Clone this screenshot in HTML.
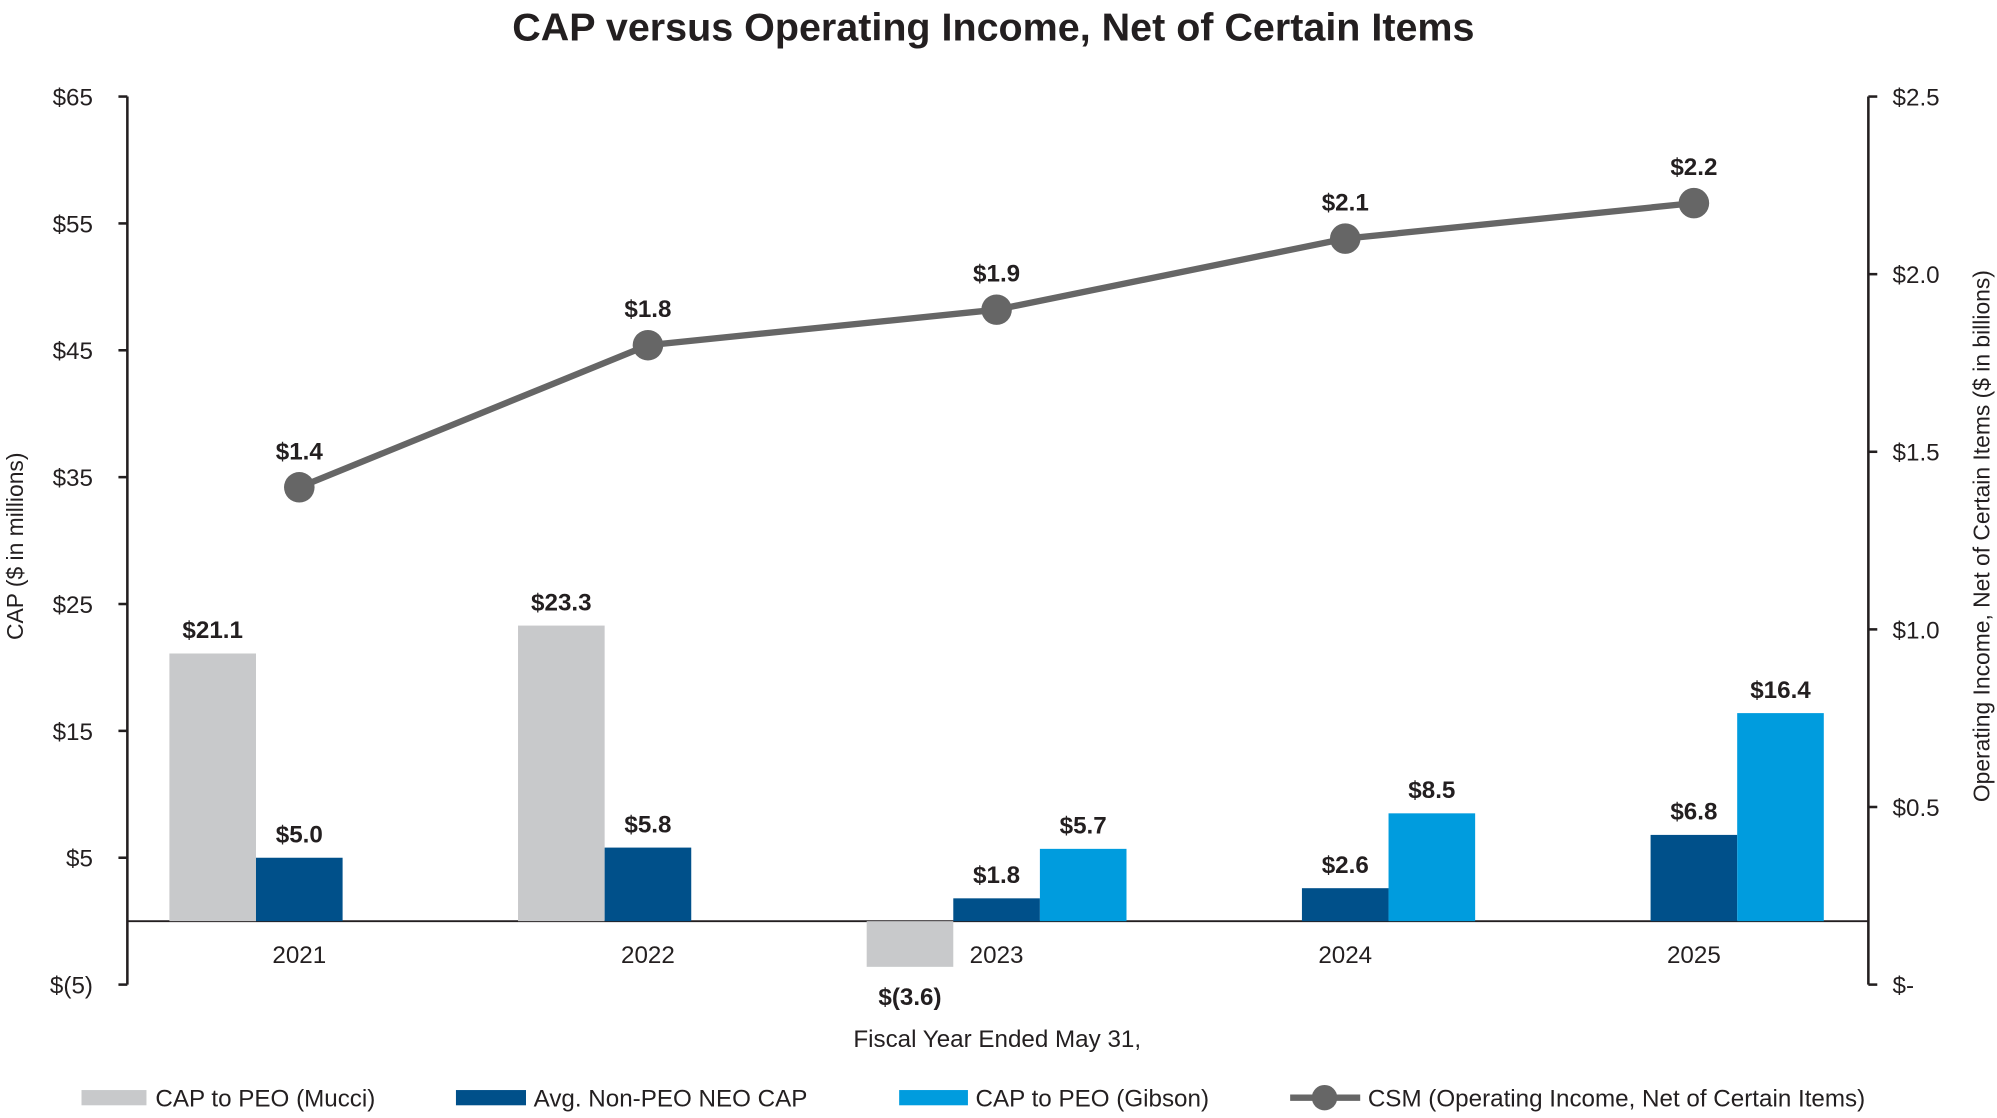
<!DOCTYPE html>
<html><head><meta charset="utf-8"><style>
html,body{margin:0;padding:0;background:#fff;}
svg{display:block;font-family:"Liberation Sans",sans-serif;}
</style></head><body>
<svg id="chart" width="1997" height="1118" viewBox="0 0 1568 880" preserveAspectRatio="none" xmlns="http://www.w3.org/2000/svg">
<text x="780" y="32" text-anchor="middle" font-size="31" font-weight="bold" fill="#231f20">CAP versus Operating Income, Net of Certain Items</text>
<g id="axes"></g>
<g id="marks"></g>
<text transform="translate(18,430) rotate(-90)" text-anchor="middle" font-size="18" fill="#231f20">CAP ($ in millions)</text>
<text transform="translate(1562,422) rotate(-90)" text-anchor="middle" font-size="18" fill="#231f20">Operating Income,  Net of Certain Items ($ in billions)</text>
<text x="783" y="824" text-anchor="middle" font-size="19" fill="#231f20">Fiscal Year Ended May 31,</text>
<g>
<rect x="64" y="858" width="51" height="12" fill="#c8c9cb"/>
<text x="122" y="871" font-size="19" fill="#231f20">CAP to PEO (Mucci)</text>
<rect x="358" y="858" width="55" height="12" fill="#00508a"/>
<text x="419" y="871" font-size="19" fill="#231f20">Avg. Non-PEO NEO CAP</text>
<rect x="706" y="858" width="54" height="12" fill="#009cde"/>
<text x="766" y="871" font-size="19" fill="#231f20">CAP to PEO (Gibson)</text>
<line x1="1013" y1="864" x2="1068" y2="864" stroke="#666" stroke-width="5"/>
<circle cx="1040" cy="864" r="10" fill="#666"/>
<text x="1074" y="871" font-size="19" fill="#231f20">CSM (Operating Income, Net of Certain Items)</text>
</g>
</svg>
<script>
const years=['2021','2022','2023','2024','2025'];
const mucci=[21.1,23.3,-3.6,null,null];
const nonPeo=[5.0,5.8,1.8,2.6,6.8];
const gibson=[null,null,5.7,8.5,16.4];
const csm=[1.4,1.8,1.9,2.1,2.2];
const leftTicks=[-5,5,15,25,35,45,55,65];
const leftTickLabels=['$(5)','$5','$15','$25','$35','$45','$55','$65'];
const rightTicks=[0,0.5,1.0,1.5,2.0,2.5];
const rightTickLabels=['$-','$0.5','$1.0','$1.5','$2.0','$2.5'];

const NS='http://www.w3.org/2000/svg';
const axL=100,axR=1467,yTop=76,yBot=775;
const yL=v=>yBot-(v+5)/70*(yBot-yTop);
const yR=v=>yBot-v/2.5*(yBot-yTop);
const xC=i=>235+i*273.75;
const bw=68;
function mk(tag,attrs,parent,text){const el=document.createElementNS(NS,tag);for(const k in attrs)el.setAttribute(k,attrs[k]);if(text!=null)el.textContent=text;parent.appendChild(el);return el;}
const axes=document.getElementById('axes'),marks=document.getElementById('marks');
let e;
e=mk('line',{x1:axL,y1:yTop,x2:axL,y2:yBot,stroke:'#231f20','stroke-width':2},axes);


e=mk('line',{x1:axR,y1:yTop,x2:axR,y2:yBot,stroke:'#231f20','stroke-width':2},axes);


e=mk('line',{x1:axL,y1:yL(0),x2:axR,y2:yL(0),stroke:'#231f20','stroke-width':1.5},axes);


leftTicks.forEach((t,i)=>{
  e=mk('line',{x1:axL-7,y1:yL(t),x2:axL,y2:yL(t),stroke:'#231f20','stroke-width':2},axes);
  
  
  e=mk('text',{x:73,y:yL(t)+7,'text-anchor':'end','font-size':19,fill:'#231f20'},axes,leftTickLabels[i]);
  
  
});
rightTicks.forEach((t,i)=>{
  e=mk('line',{x1:axR,y1:yR(t),x2:axR+7,y2:yR(t),stroke:'#231f20','stroke-width':2},axes);
  
  
  e=mk('text',{x:1486,y:yR(t)+7,'font-size':19,fill:'#231f20'},axes,rightTickLabels[i]);
  
  
});
years.forEach((y,i)=>{
  e=mk('text',{x:xC(i),y:758,'text-anchor':'middle','font-size':19,fill:'#231f20'},axes,y);
  
  
});
const fmt=v=>v<0?'$('+Math.abs(v).toFixed(1)+')':'$'+v.toFixed(1);
function bars(arr,off,color,name){
  arr.forEach((v,i)=>{
    if(v==null)return;
    const x=xC(i)+off, y0=yL(0), y1=yL(v);
    e=mk('rect',{x:x,y:Math.min(y0,y1),width:bw,height:Math.abs(y1-y0),fill:color},marks);
    
    
    const ly=v>=0?y1-12:y0+Math.abs(y1-y0)+30;
    e=mk('text',{x:x+bw/2,y:ly,'text-anchor':'middle','font-size':19,'font-weight':'bold',fill:'#231f20'},marks,fmt(v));
    
    
  });
}
bars(mucci,-102,'#c8c9cb','mucci');
bars(nonPeo,-34,'#00508a','nonpeo');
bars(gibson,34,'#009cde','gibson');
const pts=csm.map((v,i)=>xC(i)+','+yR(v)).join(' ');
e=mk('polyline',{points:pts,fill:'none',stroke:'#666','stroke-width':5},marks);


csm.forEach((v,i)=>{
  e=mk('circle',{cx:xC(i),cy:yR(v),r:12,fill:'#666'},marks);
  
  
  e=mk('text',{x:xC(i),y:yR(v)-22,'text-anchor':'middle','font-size':19,'font-weight':'bold',fill:'#231f20'},marks,fmt(v));
  
  
});
</script>
</body></html>
